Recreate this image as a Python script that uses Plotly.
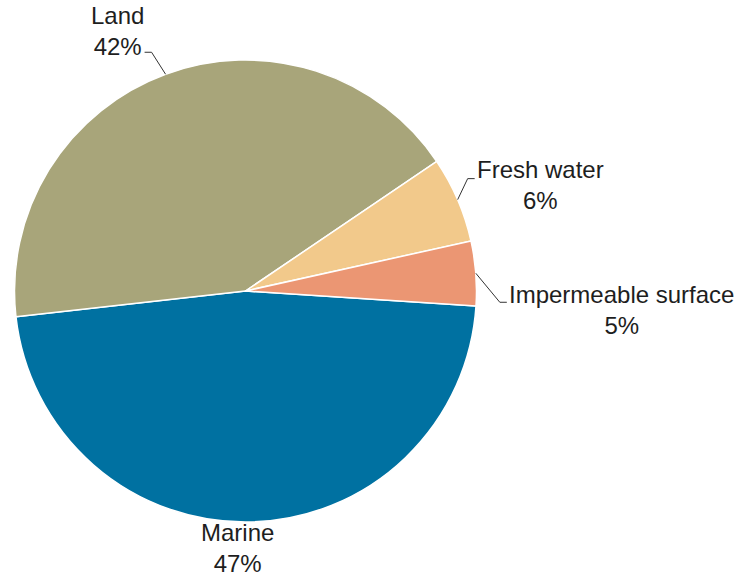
import math
import plotly.graph_objects as go

# slice data, in drawing order (clockwise from the right edge)
labels = ["Marine", "Land", "Fresh water", "Impermeable surface"]
values = [47.2, 42.3, 6.0, 4.5]
colors = ["#0071A1", "#A8A57A", "#F2C98B", "#EB9673"]

W, H = 752, 575
cx, cy, r = 245.5, 291, 231   # pie centre / radius in pixels
rotation = 93.7

# leader line elbow and label offsets (px, relative to slice edge point)
label_style = {
    "Marine": dict(line=False, text=(-13, 26)),
    "Land": dict(line=True, elbow=(-14, -22), end=(-21, -22), text=(-48, -43)),
    "Fresh water": dict(line=True, elbow=(10, -21), end=(17, -21), text=(83, -15)),
    "Impermeable surface": dict(line=True, elbow=(24, 29), end=(31, 29), text=(146, 37)),
}

def px(x, y):
    return x / W, 1 - y / H

fig = go.Figure(go.Pie(
    labels=labels, values=values, sort=False, direction="clockwise",
    rotation=rotation, textinfo="none", hoverinfo="label+percent",
    marker=dict(colors=colors, line=dict(color="white", width=1.5)),
    showlegend=False,
    domain=dict(x=[(cx - r) / W, (cx + r) / W], y=[1 - (cy + r) / H, 1 - (cy - r) / H]),
))

total = sum(values)
start = rotation
shapes, annots = [], []
for lab, v in zip(labels, values):
    span = v / total * 360
    mid = math.radians(start + span / 2)
    start += span
    ex, ey = cx + r * math.sin(mid), cy - r * math.cos(mid)
    st = label_style[lab]
    if st["line"]:
        pts = [(ex, ey), (ex + st["elbow"][0], ey + st["elbow"][1]), (ex + st["end"][0], ey + st["end"][1])]
        path = "M " + " L ".join("%f,%f" % px(*p) for p in pts)
        shapes.append(dict(type="path", path=path, xref="paper", yref="paper",
                           line=dict(color="#333333", width=1)))
    tx, ty = px(ex + st["text"][0], ey + st["text"][1])
    annots.append(dict(x=tx, y=ty, xref="paper", yref="paper", showarrow=False,
                       text="%s<br>%d%%" % (lab, int(v + 0.5)),
                       xanchor="center", yanchor="middle", align="center"))

fig.update_layout(
    width=W, height=H,
    margin=dict(l=0, r=0, t=0, b=0),
    paper_bgcolor="white", plot_bgcolor="white",
    font=dict(family="Liberation Sans, Arial, sans-serif", size=24, color="#1E1E1E"),
    shapes=shapes, annotations=annots,
)

fig.write_html("out.html", config={"displayModeBar": False},
               post_script="document.body.style.margin='0';")
